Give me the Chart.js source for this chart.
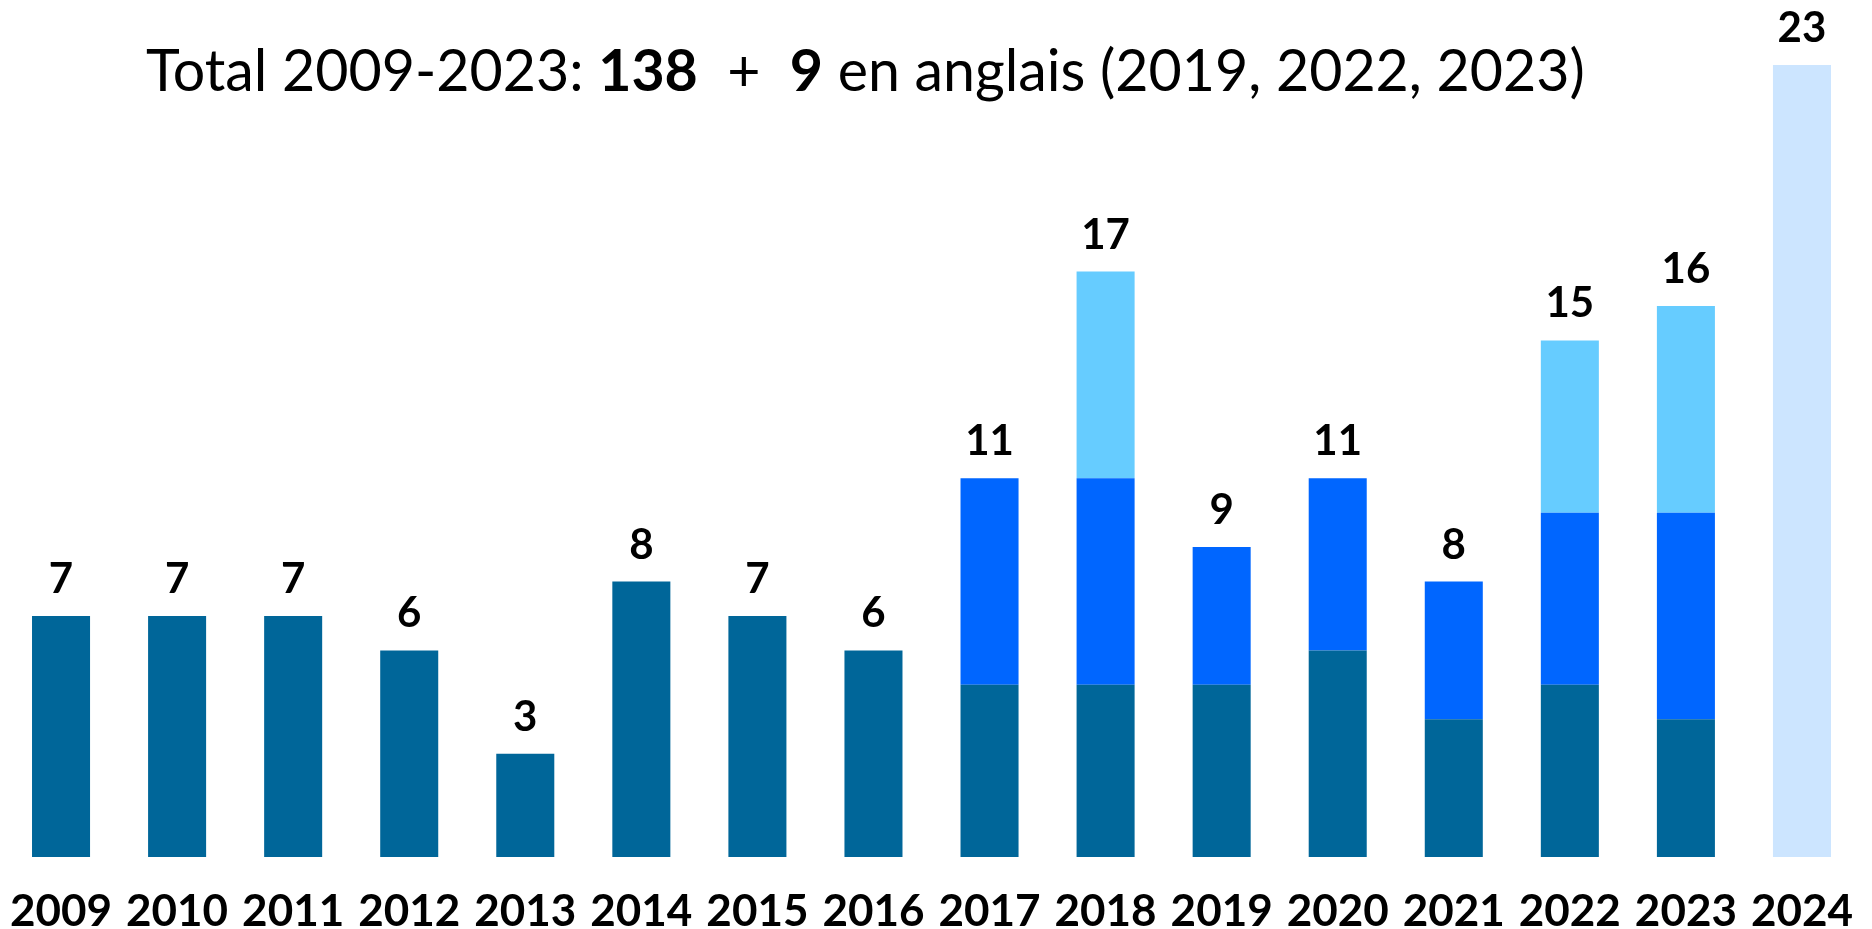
<!DOCTYPE html>
<html>
<head>
<meta charset="utf-8">
<script src="https://cdn.jsdelivr.net/npm/chart.js@4/dist/chart.umd.min.js"></script>
<style>
  html, body { margin: 0; padding: 0; background: #ffffff; }
  #wrap { width: 1872px; height: 929px; position: relative; }
</style>
</head>
<body>
<div id="wrap"><canvas id="c" width="1872" height="929"></canvas></div>
<script>
// ---- data ----
const years = ["2009","2010","2011","2012","2013","2014","2015","2016","2017","2018","2019","2020","2021","2022","2023","2024"];
const seriesDark  = [7, 7, 7, 6, 3, 8, 7, 6, 5, 5, 5, 6, 4, 5, 4, null];
const seriesBlue  = [null, null, null, null, null, null, null, null, 6, 6, 4, 5, 4, 5, 6, null];
const seriesLight = [null, null, null, null, null, null, null, null, null, 6, null, null, null, 5, 6, null];
const series2024  = [null, null, null, null, null, null, null, null, null, null, null, null, null, null, null, 23];
const titleParts = [
  { text: "Total 2009-2023: ", bold: false },
  { text: "138", bold: true },
  { text: "  +  ", bold: false },
  { text: "9", bold: true },
  { text: " en anglais (2019, 2022, 2023)", bold: false }
];

const FONT = "Lato";
const totals = years.map((_, i) =>
  [seriesDark, seriesBlue, seriesLight, series2024].reduce((s, a) => s + (a[i] || 0), 0));

const overlay = {
  id: 'overlay',
  afterDatasetsDraw(chart) {
    const ctx = chart.ctx;
    const x = chart.scales.x, y = chart.scales.y;
    ctx.save();
    ctx.fillStyle = '#000';
    ctx.textAlign = 'center';
    ctx.textBaseline = 'alphabetic';
    ctx.font = `bold 42px ${FONT}`;
    totals.forEach((t, i) => {
      ctx.fillText(String(t), x.getPixelForValue(i), y.getPixelForValue(t) - 23);
    });
    // title
    ctx.textAlign = 'left';
    let px = 146;
    titleParts.forEach(p => {
      ctx.font = `${p.bold ? 'bold ' : ''}57.3px ${FONT}`;
      ctx.fillText(p.text, px, 91);
      px += ctx.measureText(p.text).width;
    });
    ctx.restore();
  }
};

new Chart(document.getElementById('c'), {
  type: 'bar',
  data: {
    labels: years,
    datasets: [
      { data: seriesDark,  backgroundColor: '#006699' },
      { data: seriesBlue,  backgroundColor: '#0066ff' },
      { data: seriesLight, backgroundColor: '#66ccff' },
      { data: series2024,  backgroundColor: '#cce5ff' }
    ]
  },
  options: {
    responsive: false,
    animation: false,
    devicePixelRatio: 1,
    layout: { padding: { top: 65, left: 3, right: 12, bottom: 0 } },
    datasets: { bar: { categoryPercentage: 1, barPercentage: 0.5, borderWidth: 0 } },
    plugins: { legend: { display: false }, tooltip: { enabled: false }, title: { display: false } },
    scales: {
      x: {
        stacked: true,
        grid: { display: false },
        border: { display: false },
        afterFit(scale) { scale.height = 72; },
        ticks: { color: '#000', font: { family: FONT, weight: 'bold', size: 44, lineHeight: 1.73 }, padding: 9, maxRotation: 0, autoSkip: false }
      },
      y: {
        stacked: true,
        display: false,
        min: 0,
        max: 23
      }
    }
  },
  plugins: [overlay]
});
</script>
</body>
</html>
